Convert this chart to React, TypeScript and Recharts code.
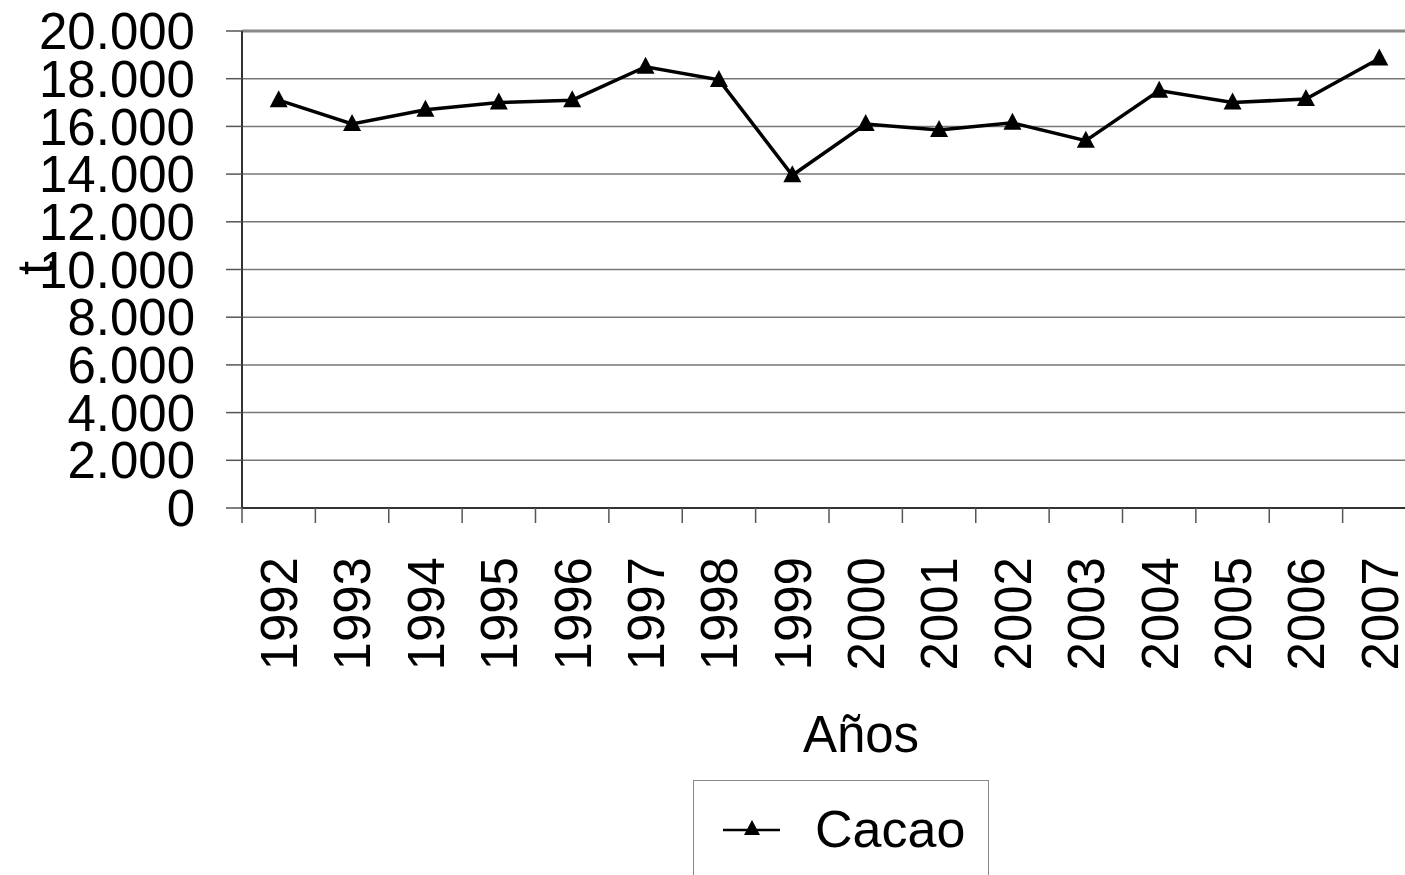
import { LineChart, Line, XAxis, YAxis, CartesianGrid, Legend, ReferenceLine } from "recharts";

const years = [
  "1992", "1993", "1994", "1995", "1996", "1997", "1998", "1999",
  "2000", "2001", "2002", "2003", "2004", "2005", "2006", "2007",
];
const cacao = [
  17100, 16100, 16700, 17000, 17100, 18500, 17950, 13950,
  16100, 15850, 16150, 15400, 17500, 17000, 17150, 18850,
];
const yTicks = [0, 2000, 4000, 6000, 8000, 10000, 12000, 14000, 16000, 18000, 20000];

const data = years.map((year, i) => ({ year, cacao: cacao[i] }));

const FONT = "'Liberation Sans', Arial, sans-serif";
const CHART_W = 1420;
const CHART_H = 875;
const LEFT = 242;
const RIGHT = 4;
const PLOT_W = CHART_W - LEFT - RIGHT;
const STEP = PLOT_W / years.length;

function fmt(v: number) {
  return v.toLocaleString("de-DE");
}

function Triangle(props: any) {
  const { cx, cy } = props;
  if (cx == null || cy == null) return null;
  return (
    <polygon
      points={`${cx},${cy - 10} ${cx - 9},${cy + 7} ${cx + 9},${cy + 7}`}
      fill="#000"
    />
  );
}

function YearTick(props: any) {
  const { x, y, payload, index } = props;
  const last = index === years.length - 1;
  return (
    <g>
      <line x1={x - STEP / 2} x2={x - STEP / 2} y1={y} y2={y + 15} stroke="#555" strokeWidth={1.5} />
      {last && (
        <line x1={x + STEP / 2} x2={x + STEP / 2} y1={y} y2={y + 15} stroke="#555" strokeWidth={1.5} />
      )}
      <text
        transform={`translate(${x},${y + 49}) rotate(-90)`}
        textAnchor="end"
        dy="0.36em"
        fontSize={51}
        fontFamily={FONT}
        fill="#000"
      >
        {payload.value}
      </text>
    </g>
  );
}

function LegendBox() {
  return (
    <svg width={297} height={120} style={{ display: "block" }}>
      <rect x={0.5} y={0.5} width={295} height={130} fill="#fff" stroke="#888" strokeWidth={1} />
      <line x1={30} x2={87} y1={50} y2={50} stroke="#000" strokeWidth={2.5} />
      <polygon points="59,40 51,55 67,55" fill="#000" />
      <text x={122} y={67} fontSize={52} fontFamily={FONT} fill="#000">
        Cacao
      </text>
    </svg>
  );
}

export default function App() {
  return (
    <div
      style={{
        position: "absolute",
        left: 0,
        top: 0,
        width: 1405,
        height: 875,
        overflow: "hidden",
        background: "#fff",
      }}
    >
      <LineChart
        width={CHART_W}
        height={CHART_H}
        data={data}
        margin={{ top: 31, right: RIGHT, bottom: 0, left: 0 }}
      >
        <CartesianGrid horizontal vertical={false} stroke="#777" strokeWidth={1.5} />
        <ReferenceLine y={20000} stroke="#888" strokeWidth={3} />
        <XAxis
          dataKey="year"
          height={CHART_H - 31 - 477}
          padding={{ left: STEP / 2, right: STEP / 2 }}
          interval={0}
          tickLine={false}
          tickSize={0}
          tickMargin={0}
          axisLine={{ stroke: "#333", strokeWidth: 2 }}
          tick={<YearTick />}
          label={{
            content: () => (
              <text x={861} y={752} textAnchor="middle" fontSize={51} fontFamily={FONT} fill="#000">
                Años
              </text>
            ),
          }}
        />
        <YAxis
          width={LEFT}
          domain={[0, 20000]}
          ticks={yTicks}
          interval={0}
          tickFormatter={fmt}
          tickSize={16}
          tickMargin={31}
          tickLine={{ stroke: "#555", strokeWidth: 1.5 }}
          axisLine={{ stroke: "#333", strokeWidth: 2 }}
          tick={{ fontSize: 51, fontFamily: FONT, fill: "#000" }}
          label={{
            content: () => (
              <text
                transform="translate(35,268) rotate(-90)"
                textAnchor="middle"
                dy="0.36em"
                fontSize={51}
                fontFamily={FONT}
                fill="#000"
              >
                t
              </text>
            ),
          }}
        />
        <Legend
          layout="vertical"
          align="center"
          verticalAlign="middle"
          wrapperStyle={{ left: 693, top: 780, width: 297, height: 120 }}
          content={() => <LegendBox />}
        />
        <Line
          dataKey="cacao"
          name="Cacao"
          stroke="#000"
          strokeWidth={3.5}
          dot={<Triangle />}
          activeDot={false}
          isAnimationActive={false}
        />
      </LineChart>
    </div>
  );
}
